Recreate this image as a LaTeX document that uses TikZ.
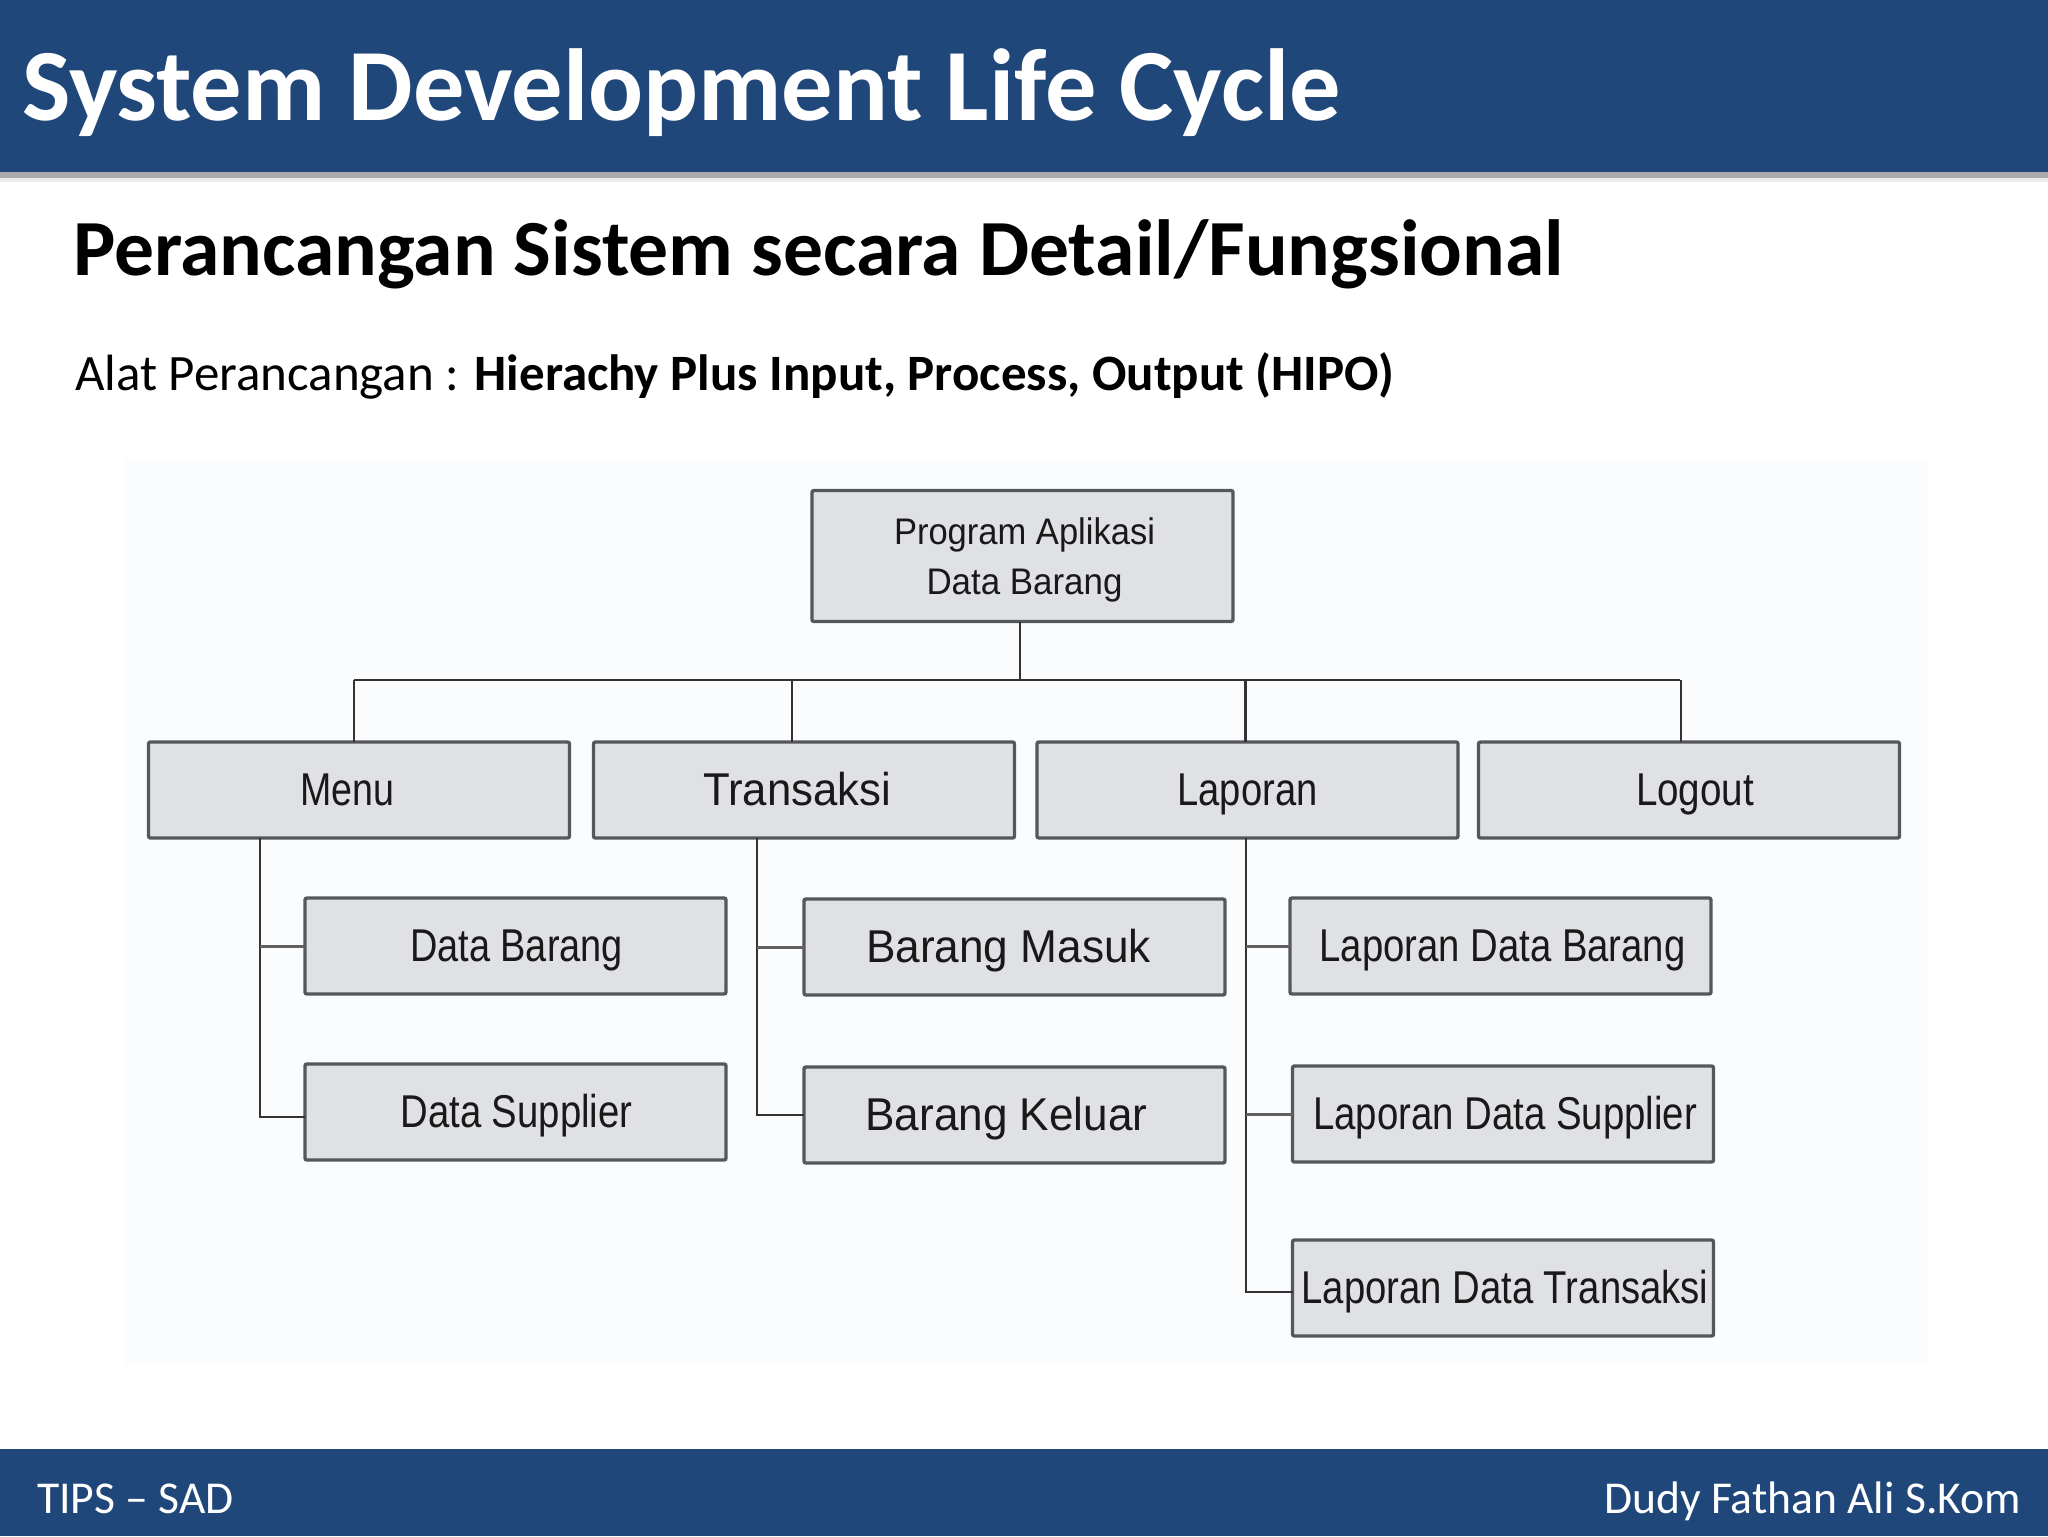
\documentclass[tikz,border=0pt]{standalone}
\usepackage{fontspec}
\setmainfont{Carlito}
\newfontfamily\boxfont{Liberation Sans}
\definecolor{navy}{HTML}{20477A}
\definecolor{boxfill}{HTML}{E0E1E4}
\definecolor{boxline}{HTML}{55575A}
\definecolor{panel}{HTML}{FBFCFE}
% width in px, ink offset in px, text
\newcommand{\bt}[3]{\hspace*{\dimexpr#2pt\relax}\resizebox{\dimexpr#1pt*1/2\relax}{\height}{#3}}
% single line: baseline placed below the box centre, box text height ignored
\newcommand{\bs}[3]{\raisebox{-7.6pt}[0pt][0pt]{\bt{#1}{#2}{#3}}}
\newcommand{\bl}[3]{\raisebox{-2pt}[\height][\depth]{\bt{#1}{#2}{#3}}}
\tikzset{
  hipo/.style={draw=boxline,fill=boxfill,line width=1.7pt,rounded corners=1pt,
    minimum width=210.5pt,minimum height=48pt,inner sep=0pt,outer sep=0pt,
    font=\boxfont\fontsize{23}{25}\selectfont,text=black!90,align=center},
  rootbox/.style={hipo,minimum height=65.5pt,font=\boxfont\fontsize{18.5}{25}\selectfont},
  link/.style={draw=black!80,line width=1.2pt},
  stub/.style={draw=black!62,line width=1.5pt},
  slidetext/.style={inner sep=0pt,outer sep=0pt}
}
\begin{document}
\begin{tikzpicture}[x=0.5pt,y=-0.5pt]
\useasboundingbox (0,0) rectangle (2048,1536);
\fill[white] (0,0) rectangle (2048,1536);
\fill[black!8] (0,172) rectangle (2048,182);
\fill[black!33] (0,172) rectangle (2048,178);
\fill[navy] (0,0) rectangle (2048,172);
\fill[navy] (0,1449) rectangle (2048,1536);
\fill[panel] (124,460) rectangle (1928,1365);

\node[slidetext,anchor=base west,text=white,font=\bfseries\fontsize{51.2}{60}\selectfont] (title) at (22,120) {System Development Life Cycle};
\node[slidetext,anchor=base west,text=black,font=\bfseries\fontsize{39.8}{45}\selectfont] (subtitle) at (73,275) {Perancangan Sistem secara Detail/Fungsional};
\node[slidetext,anchor=base west,text=black,font=\fontsize{25.5}{29}\selectfont] (tool) at (75,390) {Alat Perancangan : \textbf{Hierachy Plus Input, Process, Output (HIPO)}};
\node[slidetext,anchor=base west,text=white,font=\fontsize{22.8}{26}\selectfont] (footl) at (37,1513) {TIPS -- SAD};
\node[slidetext,anchor=base east,text=white,font=\fontsize{22.8}{26}\selectfont] (footr) at (2021,1513) {Dudy Fathan Ali S.Kom};

\coordinate (bus) at (1020,680);
\coordinate (mspine) at (260,838);
\coordinate (tspine) at (757,838);
\coordinate (lspine) at (1246,838);

\draw[link] (354,680) -- (1680,680);

\node[rootbox] (root) at (1022.5,556) {\bl{261}{2}{Program Aplikasi}\\\bl{196}{2}{Data Barang}};
\node[hipo] (menu) at (359,790) {\bs{94}{-12}{Menu}};
\node[hipo] (trans) at (804,790) {\bs{188}{-7}{Transaksi}};
\node[hipo] (lap) at (1247.5,790) {\bs{140}{0}{Laporan}};
\node[hipo] (logout) at (1689,790) {\bs{118}{6}{Logout}};
\node[hipo] (dbar) at (515.5,946) {\bs{213}{1}{Data Barang}};
\node[hipo] (dsup) at (515.5,1112) {\bs{232}{1}{Data Supplier}};
\node[hipo] (bmas) at (1014.5,947) {\bs{285}{-6}{Barang Masuk}};
\node[hipo] (bkel) at (1014.5,1115) {\bs{282}{-8}{Barang Keluar}};
\node[hipo] (ldb) at (1500.5,946) {\bs{366}{2}{Laporan Data Barang}};
\node[hipo] (lds) at (1503,1114) {\bs{384}{2}{Laporan Data Supplier}};
\node[hipo] (ldt) at (1503,1288) {\bs{407}{2}{Laporan Data Transaksi}};

\draw[link] (bus |- root.south) -- (bus);
\draw[link] ([xshift=-2.5pt]menu.north) -- ([xshift=-2.5pt]menu.north |- bus);
\draw[link] ([xshift=-6pt]trans.north) -- ([xshift=-6pt]trans.north |- bus);
\draw[link] ([xshift=-1pt]lap.north) -- ([xshift=-1pt]lap.north |- bus);
\draw[link] ([xshift=-4pt]logout.north) -- ([xshift=-4pt]logout.north |- bus);

\draw[link] (mspine |- menu.south) |- ([yshift=-2.5pt]dsup.west);
\draw[stub] (mspine |- dbar.west) -- (dbar.west);
\draw[link] (tspine |- trans.south) |- (bkel.west);
\draw[stub] (tspine |- bmas.west) -- (bmas.west);
\draw[link] (lspine |- lap.south) |- ([yshift=-2pt]ldt.west);
\draw[stub] (lspine |- ldb.west) -- (ldb.west);
\draw[stub] (lspine |- lds.west) -- (lds.west);
\end{tikzpicture}
\end{document}
